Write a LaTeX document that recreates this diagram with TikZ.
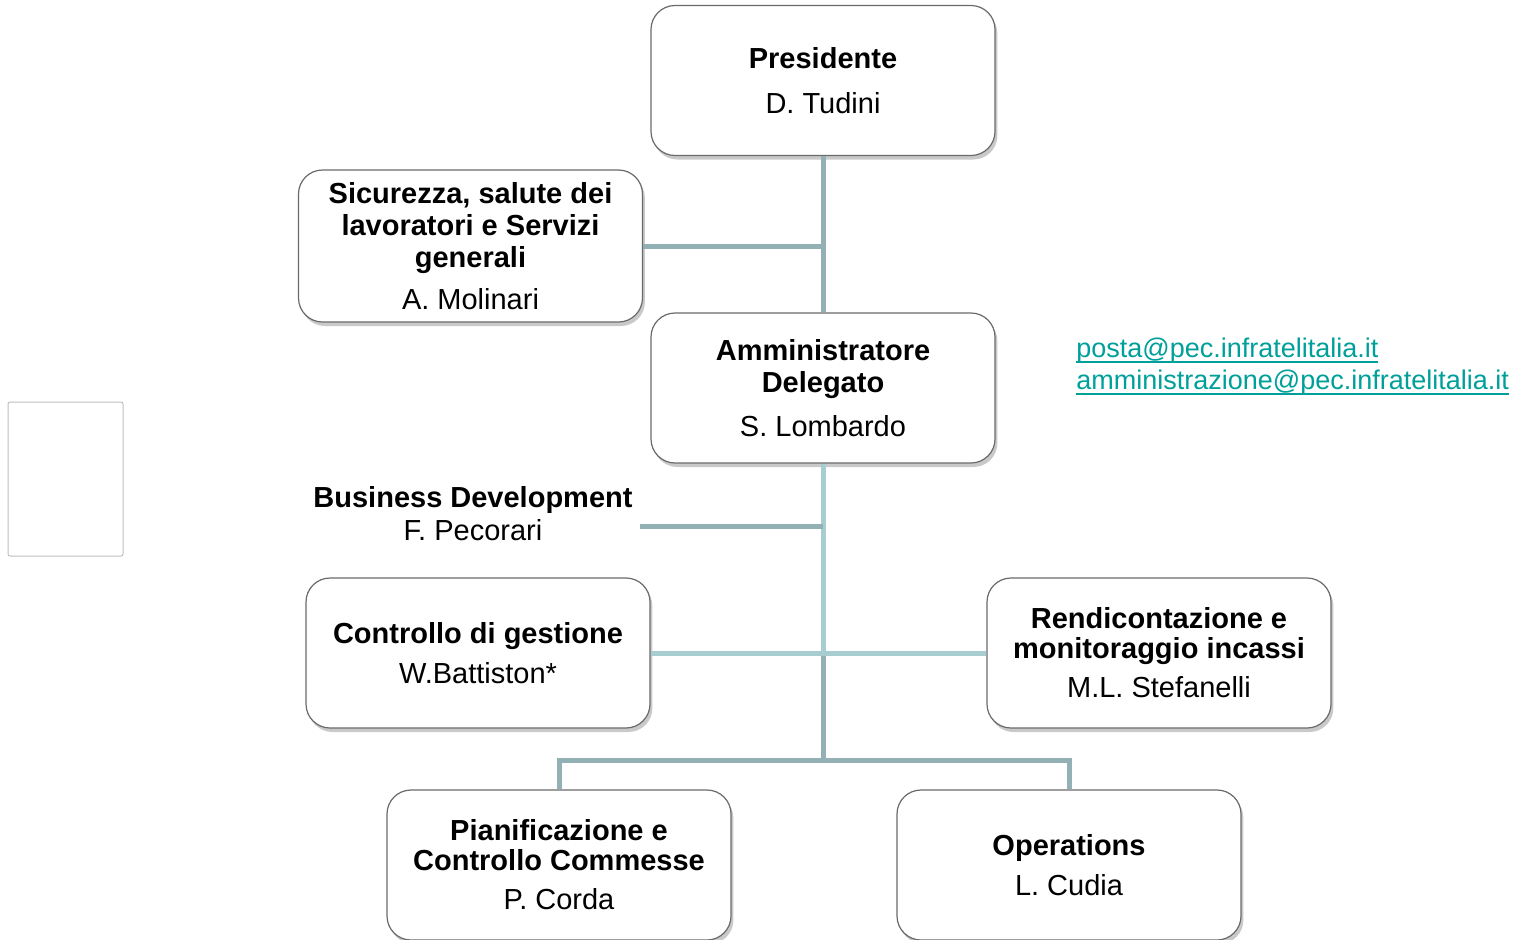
\documentclass[tikz,border=0pt]{standalone}
\usepackage{fontspec}
\setmainfont{Liberation Sans}
\usetikzlibrary{shadows}
\definecolor{lnDark}{HTML}{93B1B4}
\definecolor{lnLight}{HTML}{A8CDD0}
\definecolor{mailc}{HTML}{00A09A}
\definecolor{boxgray}{HTML}{6A6A6A}
\newcommand\mailul[1]{\setbox0\hbox{#1}\rlap{\rule[-2.6pt]{\wd0}{0.9pt}}\box0}
\begin{document}
\begin{tikzpicture}[x=0.5pt,y=-0.5pt,
  orgbox/.style={draw=boxgray, line width=0.6pt, fill=white, rounded corners=12pt,
    minimum width=172pt, minimum height=75pt, align=center, inner sep=0pt,
    drop shadow={shadow xshift=1.2pt, shadow yshift=-2pt, opacity=0.35, fill=black!60},
    font=\fontsize{14.5}{16}\selectfont},
  link/.style={line width=2.5pt},
  plain/.style={align=center, inner sep=0pt, font=\fontsize{14.5}{16.5}\selectfont},
  mail/.style={anchor=west, inner sep=0pt, text=mailc, font=\fontsize{13.5}{15}\selectfont}]
\clip (0,0) rectangle (1529,939);
\fill[white] (0,0) rectangle (1529,939);

% boxes
\node[orgbox] (pres) at (823,80.5) {\textbf{Presidente}\\[6.5pt] D. Tudini};
\node[orgbox, minimum height=76pt] (sic) at (470.5,246) {\textbf{Sicurezza, salute dei}\\ \textbf{lavoratori e Servizi}\\ \textbf{generali}\\[5pt] A. Molinari};
\node[orgbox] (ad) at (823,388) {\textbf{Amministratore}\\ \textbf{Delegato}\\[6pt] S. Lombardo};
\node[plain] (bd) at (473,514) {\textbf{Business Development}\\ F. Pecorari};
\node[orgbox] (cdg) at (478,653) {\textbf{Controllo di gestione}\\[4pt] W.Battiston*};
\node[orgbox] (rend) at (1159,653) {\textbf{Rendicontazione e}\\[-1pt] \textbf{monitoraggio incassi}\\[3.5pt] M.L. Stefanelli};
\node[orgbox] (pian) at (559,865) {\textbf{Pianificazione e}\\[-1pt] \textbf{Controllo Commesse}\\[3.5pt] P. Corda};
\node[orgbox] (oper) at (1069,865) {\textbf{Operations}\\[4pt] L. Cudia};
\node[draw=black!25, line width=0.5pt, rounded corners=1pt, minimum width=57.5pt, minimum height=77pt, inner sep=0pt] (blank) at (65.5,479) {};

% emails
\node[mail] (m1) at (1076,351) {\mailul{posta@pec.infratelitalia.it}};
\node[mail] (m2) at (1076,383) {\mailul{amministrazione@pec.infratelitalia.it}};

% connectors
\coordinate (j1) at (823,653);
\coordinate (j2) at (823,760);
\coordinate (bdEnd) at (640,526);
\draw[link,lnDark] (pres.south) -- (ad.north);
\draw[link,lnDark] (sic.east) -- (sic.east -| pres.south);
\draw[link,lnLight] (ad.south) -- (j1);
\draw[link,lnDark] (j1) -- (j2);
\draw[link,lnDark] (bdEnd) -- (bdEnd -| ad.south);
\draw[link,lnLight] (cdg.east) -- (rend.west);
\draw[link,lnDark] (pian.north) |- (j2) -| (oper.north);
\end{tikzpicture}
\end{document}
